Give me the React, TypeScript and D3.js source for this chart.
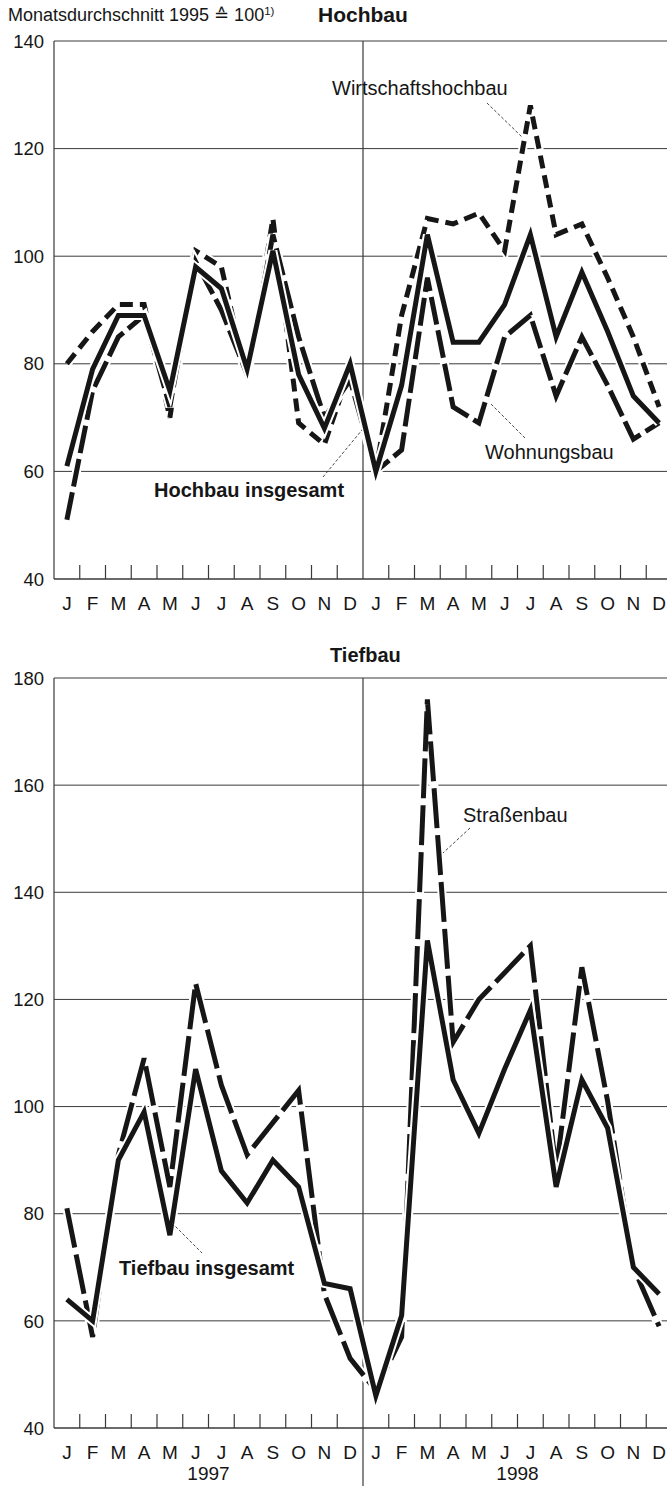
import React from "react";
import * as d3 from "d3";

// ---------- data ----------
const monthLabels = ["J", "F", "M", "A", "M", "J", "J", "A", "S", "O", "N", "D"];
const yearLabels = ["1997", "1998"];
const hochbauTicks = [40, 60, 80, 100, 120, 140];
const tiefbauTicks = [40, 60, 80, 100, 120, 140, 160, 180];

// Hochbau (Jan 1997 .. Dec 1998)
const hochbauInsgesamt = [61, 79, 89, 89, 75, 98, 94, 79, 101, 78, 68, 80, 60, 76, 104, 84, 84, 91, 104, 85, 97, 86, 74, 69];
const wirtschaftshochbau = [80, 86, 91, 91, 70, 101, 98, 77, 107, 69, 65, 79, 60, 89, 107, 106, 108, 101, 128, 104, 106, 96, 85, 72];
const wohnungsbau = [51, 75, 85, 89, 72, 99, 90, 78, 104, 85, 70, 77, 60, 64, 96, 72, 69, 85, 89, 74, 85, 76, 66, 69];

// Tiefbau (Jan 1997 .. Dec 1998)
const tiefbauInsgesamt = [64, 60, 90, 99, 76, 107, 88, 82, 90, 85, 67, 66, 46, 61, 131, 105, 95, 107, 118, 85, 105, 96, 70, 65];
const strassenbau = [81, 57, 91, 109, 85, 123, 104, 91, 97, 103, 65, 53, 47, 57, 176, 112, 120, 125, 130, 88, 126, 101, 70, 59];

// ---------- layout ----------
const W = 667;
const H = 1486;
const FONT = "'Liberation Sans', Arial, Helvetica, sans-serif";
const INK = "#161616";
const GRID = "#3a3a3a";

const x = d3.scaleLinear().domain([0, 24]).range([54, 54 + 24 * 25.75]);
const yTop = d3.scaleLinear().domain([40, 140]).range([579, 41]);
const yBot = d3.scaleLinear().domain([40, 180]).range([1428, 678]);

type Series = { data: number[]; dash?: string; width: number };

function Panel({ y, ticks, series, dividerBottom }: { y: d3.ScaleLinear<number, number>; ticks: number[]; series: Series[]; dividerBottom: number }) {
  const [lo, hi] = y.domain();
  const x0 = x(0);
  const line = d3
    .line<number>()
    .x((_, i) => x(i + 0.5))
    .y((d) => y(d));
  const boundaries = d3.range(1, 24).filter((j) => j !== 12);
  return (
    <g>
      {ticks.map((t) => (
        <g key={t}>
          <line x1={x0} x2={W} y1={y(t)} y2={y(t)} stroke={GRID} strokeWidth={t === lo ? 1.4 : 1} />
          <text x={44} y={y(t)} dy="0.36em" textAnchor="end" fontSize={18.5} fontFamily={FONT} fill={INK}>
            {t}
          </text>
        </g>
      ))}
      <line x1={x0} x2={x0} y1={y(hi)} y2={y(lo)} stroke={GRID} strokeWidth={1.2} />
      <line x1={x(12)} x2={x(12)} y1={y(hi)} y2={dividerBottom} stroke={GRID} strokeWidth={1.2} />
      {boundaries.map((j) => (
        <line key={j} x1={x(j)} x2={x(j)} y1={y(lo)} y2={y(lo) - 14} stroke={GRID} strokeWidth={1.2} />
      ))}
      {d3.range(24).map((i) => (
        <text key={i} x={x(i + 0.5)} y={y(lo) + 31} textAnchor="middle" fontSize={19} fontFamily={FONT} fill={INK}>
          {monthLabels[i % 12]}
        </text>
      ))}
      {series.map((s, k) => (
        <g key={k}>
          <path d={line(s.data) || ""} fill="none" stroke="#fff" strokeWidth={s.width + 4} strokeLinejoin="miter" />
          <path
            d={line(s.data) || ""}
            fill="none"
            stroke={INK}
            strokeWidth={s.width}
            strokeDasharray={s.dash}
            strokeLinejoin="miter"
            strokeLinecap="butt"
          />
        </g>
      ))}
    </g>
  );
}

export default function App() {
  const leader = { stroke: "#333", strokeWidth: 0.9, strokeDasharray: "3,2" };
  return (
    <svg width={W} height={H} viewBox={`0 0 ${W} ${H}`} style={{ position: "absolute", left: 0, top: 0, display: "block", background: "#fff" }}>
      <rect width={W} height={H} fill="#fff" />
      {/* header */}
      <text x={8} y={21} fontSize={18} fontFamily={FONT} fill={INK}>
        Monatsdurchschnitt 1995 ≙ 100
        <tspan fontSize={11.5} dy={-6}>1)</tspan>
      </text>
      <text x={318} y={22} fontSize={21} fontWeight="bold" fontFamily={FONT} fill={INK}>
        Hochbau
      </text>

      <Panel
        y={yTop}
        ticks={hochbauTicks}
        dividerBottom={579}
        series={[
          { data: wirtschaftshochbau, dash: "13,7", width: 5 },
          { data: wohnungsbau, dash: "28,6", width: 5 },
          { data: hochbauInsgesamt, width: 5 },
        ]}
      />
      <text x={332} y={95} fontSize={20} fontFamily={FONT} fill={INK}>Wirtschaftshochbau</text>
      <line x1={487} y1={103} x2={522} y2={137} {...leader} />
      <text x={485} y={459} fontSize={20} fontFamily={FONT} fill={INK}>Wohnungsbau</text>
      <line x1={525} y1={438} x2={490} y2={403} {...leader} />
      <text x={154} y={497} fontSize={20} fontWeight="bold" fontFamily={FONT} fill={INK}>Hochbau insgesamt</text>
      <line x1={323} y1={477} x2={362} y2={430} {...leader} />

      <text x={330} y={662} fontSize={20} fontWeight="bold" fontFamily={FONT} fill={INK}>
        Tiefbau
      </text>
      <Panel
        y={yBot}
        ticks={tiefbauTicks}
        dividerBottom={H}
        series={[
          { data: strassenbau, dash: "40,7", width: 5 },
          { data: tiefbauInsgesamt, width: 5 },
        ]}
      />
      <text x={463} y={822} fontSize={20} fontFamily={FONT} fill={INK}>Straßenbau</text>
      <line x1={470} y1={828} x2={443} y2={853} {...leader} />
      <text x={119} y={1275} fontSize={20} fontWeight="bold" fontFamily={FONT} fill={INK}>Tiefbau insgesamt</text>
      <line x1={172} y1={1223} x2={202} y2={1253} {...leader} />

      {yearLabels.map((yl, k) => (
        <text key={yl} x={x(6 + 12 * k)} y={1480} textAnchor="middle" fontSize={19} fontFamily={FONT} fill={INK}>
          {yl}
        </text>
      ))}
    </svg>
  );
}
